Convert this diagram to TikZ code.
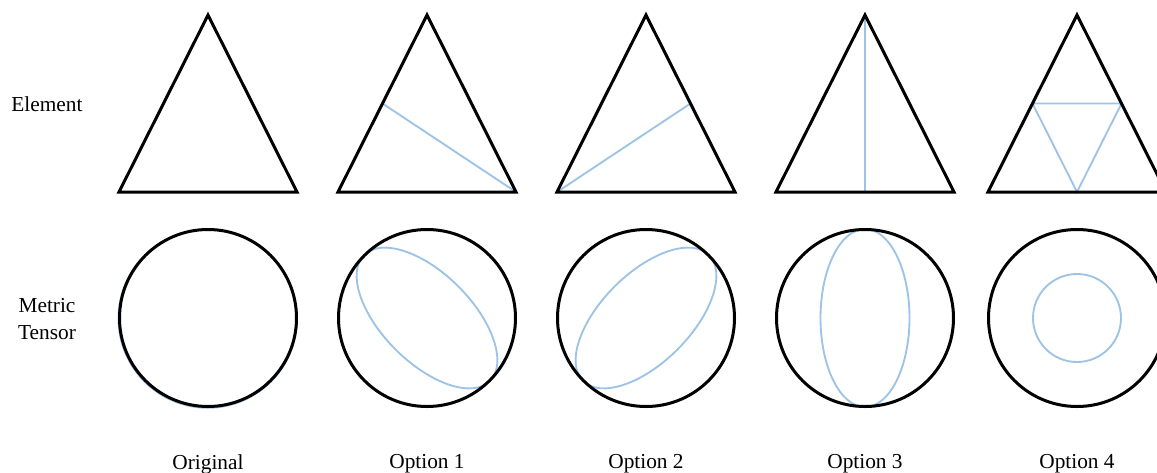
\documentclass[tikz,border=0pt]{standalone}
\usepackage{fontspec}
\setmainfont{Liberation Serif}
\usetikzlibrary{calc}
\definecolor{metricblue}{HTML}{9DC3E6}
\tikzset{
	elem/.style={draw=black, line width=2.25pt, line join=miter},
	split/.style={draw=metricblue, line width=1.4pt},
	lbl/.style={font=\fontsize{16}{20}\selectfont, align=center}
}

\begin{document}
\begin{tikzpicture}[x=0.75pt,y=-0.75pt]
			\useasboundingbox (0,0) rectangle (1157,472);
			\clip (0,0) rectangle (1157,472);
			
			\node[lbl] (element) at (47,104) {Element};
			\node[lbl] (metric) at (47,319) {Metric\\Tensor};
			
			% vertices and centres of the five columns
			\foreach \c/\n in {208/o, 427/a, 646/b, 865/c, 1077/d} {
				\coordinate (top\n) at (\c,15);
				\coordinate (left\n) at (\c-89,192);
				\coordinate (right\n) at (\c+89,192);
				\coordinate (mid\n) at (\c,318);
			}
			
			% splits of the element
			\draw[split] ($(lefta)!0.5!(topa)$) -- (righta);
			\draw[split] (leftb) -- ($(rightb)!0.5!(topb)$);
			\draw[split] (topc) -- ($(leftc)!0.5!(rightc)$);
			\draw[split] ($(leftd)!0.5!(topd)$) -- ($(rightd)!0.5!(topd)$)
				-- ($(leftd)!0.5!(rightd)$) -- cycle;
			
			% metric tensors
			\draw[split] ($(mido)+(-0.3,0.6)$) circle (89.2);
			\draw[split, rotate around={-45:(mida)}] (mida) ellipse (89 and 44.5);
			\draw[split, rotate around={45:(midb)}] (midb) ellipse (89 and 44.5);
			\draw[split] (midc) ellipse (44.5 and 89);
			\draw[split] (midd) circle (44);
			
			\foreach \n in {o, a, b, c, d} {
				\draw[elem] (left\n) -- (top\n) -- (right\n) -- cycle;
				\draw[elem] (mid\n) circle (88.5);
			}
			
			\node[lbl] (orig) at (208,464) {Original};
			\node[lbl] (opt1) at (427,464) {Option 1};
			\node[lbl] (opt2) at (646,464) {Option 2};
			\node[lbl] (opt3) at (865,464) {Option 3};
			\node[lbl] (opt4) at (1077,464) {Option 4};
		\end{tikzpicture}
\end{document}
